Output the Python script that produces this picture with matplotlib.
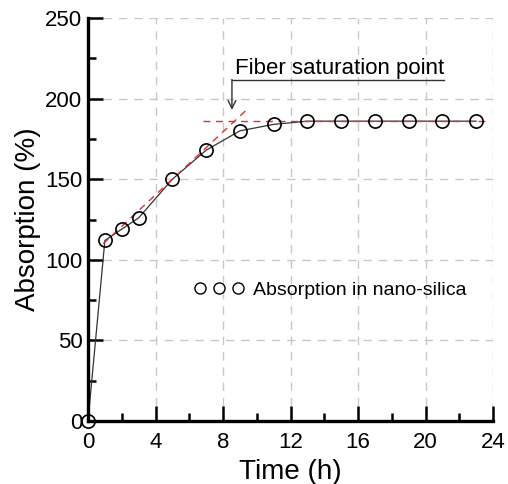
import matplotlib
matplotlib.use("Agg")
import matplotlib.pyplot as plt
from matplotlib.lines import Line2D
from matplotlib.ticker import MultipleLocator

plt.rcParams['font.family'] = ['Liberation Sans', 'DejaVu Sans']

time_h = [0, 1, 2, 3, 5, 7, 9, 11, 13, 15, 17, 19, 21, 23]
absorption = [0, 112, 119, 126, 150, 168, 180, 184, 186, 186, 186, 186, 186, 186]

slope_x = [0.9, 9.5]
slope_y = [110, 194]
plateau_x = [6.8, 23.5]
plateau_y = [186, 186]

xticks = [0, 4, 8, 12, 16, 20, 24]
yticks = [0, 50, 100, 150, 200, 250]

fig = plt.figure(figsize=(5.08, 4.84), dpi=100)
ax = fig.add_axes([88/508, 1-421/484, 405/508, 403/484])

ax.grid(True, which='major', color='#c8c8c8', linestyle=(0, (6, 5)), linewidth=1.0)
ax.set_axisbelow(True)

ax.plot(time_h, absorption, color='#333333', lw=0.9, zorder=2)
ax.plot(slope_x, slope_y, color='#e03030', lw=1.0, ls=(0, (5, 4)), zorder=3)
ax.plot(plateau_x, plateau_y, color='#e03030', lw=1.0, ls=(0, (5, 4)), zorder=3)
ax.plot(time_h, absorption, ls='none', marker='o', ms=9.5, mfc='none',
        mec='black', mew=1.2, zorder=4, clip_on=False)

ax.set_xlim(0, 24)
ax.set_ylim(0, 250)
ax.set_xticks(xticks)
ax.set_yticks(yticks)
ax.xaxis.set_minor_locator(MultipleLocator(2))
ax.yaxis.set_minor_locator(MultipleLocator(25))
ax.tick_params(which='major', direction='in', length=11, width=1.8, labelsize=16, pad=8)
ax.tick_params(which='minor', direction='in', length=6, width=1.8)
ax.tick_params(axis='y', pad=4)
for s in ['top', 'right']:
    ax.spines[s].set_visible(False)
for s in ['left', 'bottom']:
    ax.spines[s].set_linewidth(2.4)

ax.set_xlabel('Time (h)', fontsize=20, labelpad=4)
ax.set_ylabel('Absorption (%)', fontsize=20, labelpad=3)

# annotation
ax.text(8.72, 215.3, 'Fiber saturation point', fontsize=16, ha='left', va='baseline')
ax.plot([8.53, 21.1], [211.5, 211.5], color='#333333', lw=1.0)
ax.annotate('', xy=(8.53, 193), xytext=(8.53, 211.9),
            arrowprops=dict(arrowstyle='->', color='#333333', lw=1.0,
                            shrinkA=0, shrinkB=0, mutation_scale=14))

handle = Line2D([], [], ls='none', marker='o', ms=8, mfc='none', mec='black', mew=1.0)
ax.legend([handle], ['Absorption in nano-silica'], numpoints=3, frameon=False,
          fontsize=14, loc='center left', bbox_to_anchor=(0.262, 1-(290-18)/403),
          handlelength=2.56, handletextpad=0.47, borderpad=0, borderaxespad=0)

fig.savefig('out.png', dpi=100)
